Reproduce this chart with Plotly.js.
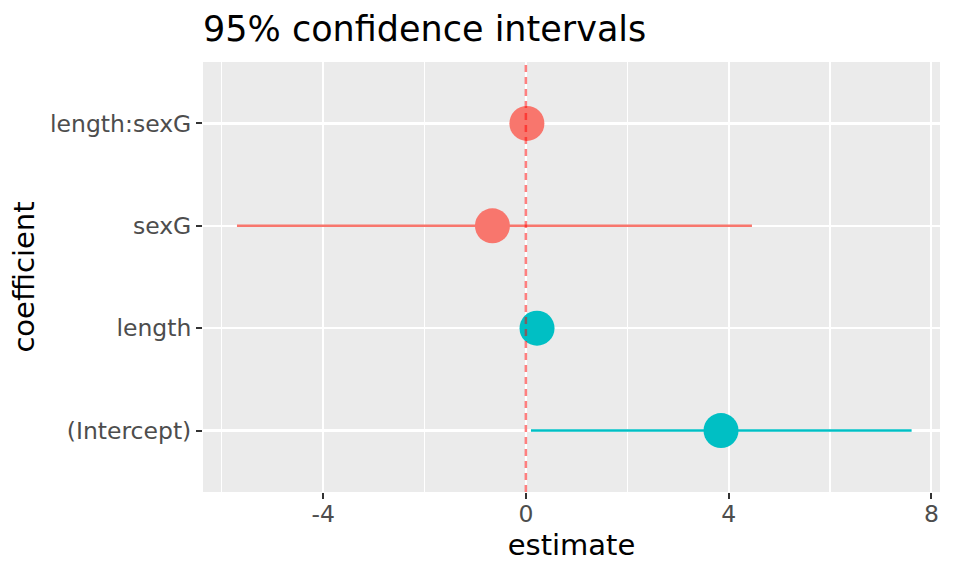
<!DOCTYPE html>
<html>
<head>
<meta charset="utf-8">
<script src="https://cdn.plot.ly/plotly-3.0.1.min.js"></script>
<style>html,body{margin:0;padding:0;background:#fff}#chart{width:960px;height:576px}</style>
</head>
<body>
<div id="chart"></div>
<script>
// Data
const coefficients = ["(Intercept)", "length", "sexG", "length:sexG"];
const estimates    = [3.85, 0.22, -0.66, 0.02];
const ciLow        = [0.10, 0.12, -5.70, -0.10];
const ciHigh       = [7.61, 0.32, 4.46, 0.14];
const groups       = ["teal", "teal", "red", "red"];
const groupColors  = {teal: "#00BFC4", red: "#F8766D"};
const xTickVals    = [-4, 0, 4, 8];
const xTickText    = ["-4", "0", "4", "8"];

const traces = [];
Object.keys(groupColors).forEach(g => {
  const idx = coefficients.map((c, i) => i).filter(i => groups[i] === g);
  traces.push({
    type: "scatter",
    mode: "markers",
    x: idx.map(i => estimates[i]),
    y: idx.map(i => coefficients[i]),
    marker: {color: groupColors[g], size: 35, line: {width: 0}},
    error_x: {
      type: "data",
      symmetric: false,
      array: idx.map(i => ciHigh[i] - estimates[i]),
      arrayminus: idx.map(i => estimates[i] - ciLow[i]),
      color: groupColors[g],
      thickness: 2.5,
      width: 0
    },
    showlegend: false,
    hoverinfo: "x+y"
  });
});

const layout = {
  width: 960, height: 576,
  margin: {l: 203, r: 20, t: 62, b: 84},
  paper_bgcolor: "#FFFFFF",
  plot_bgcolor: "#EBEBEB",
  font: {family: "DejaVu Sans, sans-serif", color: "#4D4D4D"},
  title: {
    text: "95% confidence intervals",
    font: {size: 35, color: "#000000"},
    x: 0, xref: "paper", xanchor: "left",
    y: 1 - 29/576, yref: "container", yanchor: "middle"
  },
  xaxis: {
    range: [-6.37, 8.17],
    tickmode: "array",
    tickvals: xTickVals,
    ticktext: xTickText,
    showgrid: true, gridcolor: "#FFFFFF", gridwidth: 2.2,
    minor: {dtick: 2, tick0: 0, showgrid: true, gridcolor: "#FFFFFF", gridwidth: 1.1, ticks: ""},
    zeroline: false,
    showline: false,
    ticks: "outside", ticklen: 6, tickwidth: 2, tickcolor: "#333333",
    ticklabelstandoff: -5,
    tickfont: {size: 23.5, color: "#4D4D4D"},
    title: {text: "estimate", font: {size: 29, color: "#000000"}, standoff: 5},
    fixedrange: true
  },
  yaxis: {
    type: "category",
    categoryorder: "array",
    categoryarray: coefficients,
    range: [-0.6, 3.6],
    showgrid: true, gridcolor: "#FFFFFF", gridwidth: 2.2,
    zeroline: false,
    showline: false,
    ticks: "outside", ticklen: 6, tickwidth: 2, tickcolor: "#333333",
    tickfont: {size: 23.5, color: "#4D4D4D"},
    title: {text: "coefficient", font: {size: 29, color: "#000000"}, standoff: 6},
    fixedrange: true
  },
  shapes: [{
    type: "line", layer: "above",
    xref: "x", yref: "paper",
    x0: 0, x1: 0, y0: 0, y1: 1,
    line: {color: "rgba(255,0,0,0.5)", width: 2.5, dash: "7px,5px"}
  }]
};

Plotly.newPlot("chart", traces, layout, {displayModeBar: false, staticPlot: true});
</script>
</body>
</html>
